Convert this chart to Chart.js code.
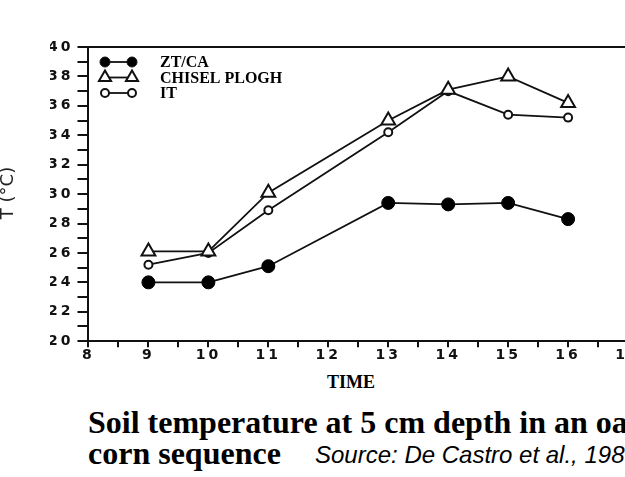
<!DOCTYPE html>
<html>
<head>
<meta charset="utf-8">
<script src="https://cdn.jsdelivr.net/npm/chart.js@4.4.0/dist/chart.umd.min.js"></script>
<style>
  body { margin: 0; background: #fff; }
  #wrap { position: relative; width: 625px; height: 477px; overflow: hidden; background: #fff; }
  #chartBox { position: absolute; left: 0; top: 0; width: 698px; height: 364px; }
  .serif { font-family: "Liberation Serif", "Times New Roman", serif; font-weight: bold; color: #000; position: absolute; white-space: nowrap; }
  #ytitle { position: absolute; left: -23px; top: 183px; width: 60px; height: 20px; line-height: 20px; text-align: center; transform: rotate(-90deg); font-family: "DejaVu Sans", sans-serif; font-size: 18px; white-space: nowrap; color: #222; }
  #xtitle { left: 327px; top: 372px; font-size: 18px; }
  #title1 { left: 88px; top: 404px; font-size: 32px; line-height: 36px; }
  #title2 { left: 88px; top: 435px; font-size: 32px; line-height: 36px; }
  #source { position: absolute; left: 315px; top: 441px; font-family: "Liberation Sans", Arial, sans-serif; font-style: italic; font-size: 24px; line-height: 28px; white-space: nowrap; }
</style>
</head>
<body>
<div id="wrap">
  <div id="chartBox"><canvas id="myChart"></canvas></div>
  <div id="ytitle">T (°C)</div>
  <div class="serif" id="xtitle">TIME</div>
  <div class="serif" id="title1">Soil temperature at 5 cm depth in an oat-</div>
  <div class="serif" id="title2">corn sequence</div>
  <div id="source">Source: De Castro et al., 198</div>
</div>
<script>
// data
var times = [9, 10, 11, 13, 14, 15, 16];
var ztca = [24.0, 24.0, 25.1, 29.4, 29.3, 29.4, 28.3];
var chisel = [26.1, 26.1, 30.1, 35.0, 37.1, 38.0, 36.2];
var it = [25.2, 26.0, 28.9, 34.2, 37.0, 35.4, 35.2];

function pairs(vals) {
    return times.map(function (t, i) { return { x: t, y: vals[i] }; });
}

// wide lettering for the tick labels, reset before the lines are drawn
var wideTicks = {
    id: 'wideTicks',
    beforeDraw: function (chart) { chart.ctx.letterSpacing = '3px'; },
    beforeDatasetsDraw: function (chart) { chart.ctx.letterSpacing = '0px'; }
};

// top frame line + legend drawn as "marker—marker" like the original
var frameAndLegend = {
    id: 'frameAndLegend',
    afterDraw: function (chart) {
        var ctx = chart.ctx;
        var a = chart.chartArea;
        ctx.save();
        ctx.letterSpacing = '0px';
        ctx.strokeStyle = '#111';
        ctx.lineWidth = 2;
        ctx.beginPath();
        ctx.moveTo(a.left, a.top);
        ctx.lineTo(a.right, a.top);
        ctx.stroke();

        var x1 = 105, x2 = 132, y0 = 62, dy = 15.5;
        chart.data.datasets.forEach(function (ds, i) {
            var y = y0 + i * dy;
            ctx.strokeStyle = '#111';
            ctx.lineWidth = 1.8;
            ctx.beginPath();
            ctx.moveTo(x1, y);
            ctx.lineTo(x2, y);
            ctx.stroke();
            var opts = {
                pointStyle: ds.pointStyle,
                radius: ds.legendRadius,
                borderWidth: ds.pointBorderWidth
            };
            ctx.fillStyle = ds.pointBackgroundColor;
            ctx.strokeStyle = '#111';
            ctx.lineWidth = ds.pointBorderWidth;
            Chart.helpers.drawPoint(ctx, opts, x1, y);
            Chart.helpers.drawPoint(ctx, opts, x2, y);
            ctx.fillStyle = '#000';
            ctx.font = 'bold 16px "Liberation Serif"';
            ctx.textBaseline = 'middle';
            ctx.fillText(ds.label, 160, y + 1);
        });
        ctx.restore();
    }
};

var ctx = document.getElementById('myChart').getContext('2d');
var myChart = new Chart(ctx, {
    type: 'line',
    data: {
        datasets: [{
            label: 'ZT/CA',
            data: pairs(ztca),
            borderColor: '#111',
            borderWidth: 1.8,
            pointStyle: 'circle',
            pointRadius: 6.5,
            legendRadius: 5,
            pointBorderWidth: 1,
            pointBackgroundColor: '#000',
            pointBorderColor: '#000'
        }, {
            label: 'CHISEL PLOGH',
            data: pairs(chisel),
            borderColor: '#111',
            borderWidth: 1.8,
            pointStyle: 'triangle',
            pointRadius: 8,
            legendRadius: 7,
            pointBorderWidth: 2,
            pointBackgroundColor: '#fff',
            pointBorderColor: '#111'
        }, {
            label: 'IT',
            data: pairs(it),
            borderColor: '#111',
            borderWidth: 1.8,
            pointStyle: 'circle',
            pointRadius: 4,
            legendRadius: 4,
            pointBorderWidth: 2,
            pointBackgroundColor: '#fff',
            pointBorderColor: '#111'
        }]
    },
    options: {
        responsive: true,
        maintainAspectRatio: false,
        animation: false,
        layout: { padding: { top: 47, left: 50, right: 0, bottom: 0 } },
        plugins: { legend: { display: false }, tooltip: { enabled: false } },
        scales: {
            x: {
                type: 'linear',
                min: 8,
                max: 18,
                border: { color: '#111', width: 2 },
                grid: { drawOnChartArea: false, color: '#111', lineWidth: 2, tickLength: 6 },
                ticks: {
                    stepSize: 0.5,
                    autoSkip: false,
                    maxRotation: 0,
                    color: '#111',
                    padding: 0,
                    font: { family: 'DejaVu Sans', weight: 'bold', size: 14 },
                    callback: function (v) { return Number.isInteger(v) ? String(v) : ''; }
                }
            },
            y: {
                min: 20,
                max: 40,
                border: { color: '#111', width: 2 },
                grid: { drawOnChartArea: false, color: '#111', lineWidth: 2, tickLength: 11 },
                ticks: {
                    stepSize: 1,
                    autoSkip: false,
                    color: '#111',
                    padding: 4,
                    font: { family: 'DejaVu Sans', weight: 'bold', size: 14 },
                    callback: function (v) { return v % 2 === 0 ? String(v) : ''; }
                }
            }
        }
    },
    plugins: [wideTicks, frameAndLegend]
});
</script>
</body>
</html>
